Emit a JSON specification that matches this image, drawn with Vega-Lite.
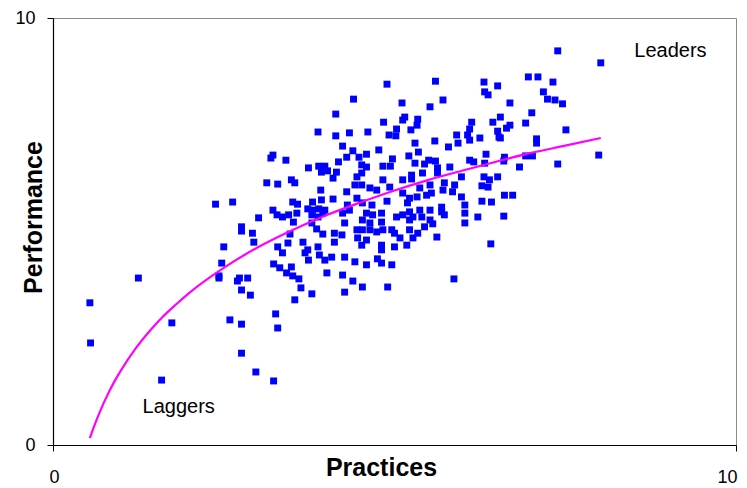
{
  "$schema": "https://vega.github.io/schema/vega-lite/v6.json",
  "width": 683,
  "height": 427,
  "autosize": {"type": "none"},
  "padding": {"left": 53, "top": 18, "right": 11, "bottom": 43},
  "background": "white",
  "config": {
    "view": {"stroke": "#8c8c8c", "strokeWidth": 1},
    "font": "Liberation Sans"
  },
  "datasets": {
    "pts": [
      {"x":0.54,"y":3.33},{"x":0.55,"y":2.39},{"x":1.25,"y":3.91},{"x":1.74,"y":2.86},{"x":1.59,"y":1.52},{"x":2.59,"y":2.93},{"x":2.76,"y":2.83},{"x":2.76,"y":2.15},{"x":2.97,"y":1.71},{"x":3.23,"y":1.50},{"x":3.26,"y":3.07},{"x":3.29,"y":2.74},
      {"x":3.88,"y":7.33},{"x":3.22,"y":6.79},{"x":3.19,"y":6.72},{"x":3.41,"y":6.67},{"x":3.74,"y":6.49},{"x":3.89,"y":6.53},{"x":3.98,"y":6.53},{"x":4.02,"y":6.42},
      {"x":3.13,"y":6.14},{"x":3.29,"y":6.11},{"x":3.49,"y":6.21},{"x":3.54,"y":6.14},{"x":2.38,"y":5.64},{"x":2.63,"y":5.69},{"x":3.22,"y":5.50},{"x":3.28,"y":5.39},{"x":3.36,"y":5.34},{"x":3.45,"y":5.39},{"x":3.57,"y":5.43},{"x":3.52,"y":5.22},{"x":3.51,"y":5.69},{"x":3.58,"y":5.64},{"x":3.01,"y":5.32},{"x":2.76,"y":5.11},{"x":2.76,"y":5.01},{"x":2.92,"y":4.96},{"x":2.94,"y":4.75},{"x":3.47,"y":4.94},{"x":2.50,"y":4.64},{"x":2.47,"y":4.26},{"x":2.43,"y":3.96},{"x":2.43,"y":3.91},{"x":3.29,"y":4.64},{"x":3.36,"y":4.50},{"x":3.44,"y":4.73},{"x":3.66,"y":4.75},{"x":3.69,"y":4.50},{"x":3.74,"y":4.33},{"x":3.23,"y":4.24},{"x":3.32,"y":4.15},{"x":3.49,"y":4.17},{"x":3.42,"y":4.03},{"x":3.51,"y":3.96},{"x":3.60,"y":3.89},{"x":2.73,"y":3.91},{"x":2.85,"y":3.91},{"x":2.70,"y":3.84},{"x":2.76,"y":3.63},{"x":2.89,"y":3.51},{"x":3.63,"y":3.68},{"x":3.79,"y":3.54},{"x":3.54,"y":3.40},{"x":3.93,"y":6.39},{"x":3.92,"y":5.97},{"x":3.80,"y":5.69},{"x":3.93,"y":5.74},{"x":3.73,"y":5.53},{"x":3.80,"y":5.50},{"x":3.89,"y":5.53},{"x":3.98,"y":5.50},{"x":3.79,"y":5.39},{"x":3.88,"y":5.34},{"x":3.95,"y":5.43},{"x":3.79,"y":5.20},{"x":3.86,"y":5.06},{"x":3.95,"y":4.94},{"x":3.88,"y":4.64},{"x":3.90,"y":4.45},{"x":3.98,"y":4.33},{"x":3.73,"y":4.57},{"x":4.01,"y":4.03},
      {"x":4.89,"y":8.45},{"x":5.60,"y":8.52},{"x":4.40,"y":8.10},{"x":5.11,"y":8.01},{"x":5.71,"y":8.08},{"x":5.52,"y":7.92},{"x":4.14,"y":7.75},{"x":4.84,"y":7.56},{"x":5.12,"y":7.61},{"x":5.15,"y":7.68},{"x":5.34,"y":7.63},{"x":5.33,"y":7.49},{"x":5.03,"y":7.40},{"x":5.24,"y":7.38},{"x":4.34,"y":7.31},{"x":4.61,"y":7.33},{"x":4.92,"y":7.26},{"x":5.02,"y":7.24},{"x":4.14,"y":7.24},{"x":4.24,"y":7.00},{"x":5.30,"y":7.07},{"x":5.59,"y":7.12},{"x":5.79,"y":6.98},{"x":5.91,"y":7.26},{"x":5.93,"y":7.07},{"x":4.39,"y":6.89},{"x":4.59,"y":6.81},{"x":4.77,"y":6.91},{"x":5.35,"y":6.86},{"x":4.48,"y":6.74},{"x":4.30,"y":6.74},{"x":5.21,"y":6.77},{"x":4.97,"y":6.70},{"x":4.18,"y":6.63},{"x":4.52,"y":6.56},{"x":4.59,"y":6.51},{"x":4.83,"y":6.53},{"x":4.94,"y":6.53},{"x":5.30,"y":6.60},{"x":5.50,"y":6.67},{"x":5.60,"y":6.65},{"x":5.44,"y":6.58},{"x":5.81,"y":6.51},{"x":5.63,"y":6.49},{"x":6.13,"y":7.56},{"x":6.10,"y":7.40},{"x":6.07,"y":7.26},{"x":6.10,"y":7.14},{"x":6.10,"y":6.67},{"x":6.16,"y":6.63},
      {"x":7.39,"y":9.23},{"x":8.02,"y":8.95},{"x":6.96,"y":8.62},{"x":7.10,"y":8.62},{"x":7.32,"y":8.50},{"x":6.31,"y":8.50},{"x":6.51,"y":8.41},{"x":6.32,"y":8.27},{"x":6.37,"y":8.20},{"x":7.18,"y":8.27},{"x":7.24,"y":8.10},{"x":7.35,"y":8.08},{"x":7.46,"y":7.99},{"x":6.69,"y":8.01},{"x":7.01,"y":7.78},{"x":6.55,"y":7.68},{"x":6.44,"y":7.56},{"x":6.92,"y":7.54},{"x":6.69,"y":7.49},{"x":6.64,"y":7.42},{"x":7.51,"y":7.38},{"x":6.51,"y":7.35},{"x":6.53,"y":7.21},{"x":6.55,"y":7.19},{"x":6.25,"y":7.19},{"x":7.08,"y":7.17},{"x":7.08,"y":7.07},{"x":6.34,"y":6.81},{"x":6.61,"y":6.74},{"x":6.92,"y":6.77},{"x":7.02,"y":6.77},{"x":7.99,"y":6.79},{"x":6.32,"y":6.60},{"x":6.60,"y":6.65},{"x":6.83,"y":6.51},{"x":7.39,"y":6.58},
      {"x":6.31,"y":6.28},{"x":6.39,"y":6.21},{"x":6.51,"y":6.28},{"x":6.28,"y":6.07},{"x":6.37,"y":6.04},{"x":6.61,"y":5.85},{"x":6.73,"y":5.85},{"x":6.28,"y":5.71},{"x":6.42,"y":5.69},{"x":6.22,"y":5.34},{"x":6.60,"y":5.36},{"x":6.41,"y":4.71},
      {"x":4.15,"y":6.39},{"x":4.45,"y":6.28},{"x":4.52,"y":6.37},{"x":4.42,"y":6.09},{"x":4.52,"y":6.09},{"x":4.64,"y":6.02},{"x":4.74,"y":5.97},{"x":4.83,"y":6.21},{"x":4.93,"y":6.04},{"x":5.12,"y":6.21},{"x":5.25,"y":6.32},{"x":5.25,"y":6.23},{"x":5.41,"y":6.37},{"x":5.37,"y":6.02},{"x":5.52,"y":6.09},{"x":5.54,"y":5.90},{"x":5.63,"y":6.37},{"x":5.73,"y":6.14},{"x":5.88,"y":6.09},{"x":5.98,"y":6.28},{"x":5.71,"y":5.97},{"x":5.85,"y":5.93},{"x":5.98,"y":5.81},{"x":4.30,"y":5.93},{"x":4.10,"y":6.25},{"x":4.10,"y":5.76},{"x":4.45,"y":5.78},{"x":4.53,"y":5.67},{"x":4.67,"y":5.62},{"x":4.89,"y":5.71},{"x":5.12,"y":5.90},{"x":5.22,"y":5.78},{"x":5.33,"y":5.81},{"x":5.19,"y":5.67},{"x":5.47,"y":5.85},{"x":4.31,"y":5.62},{"x":4.34,"y":5.50},{"x":4.24,"y":5.43},{"x":4.27,"y":5.20},{"x":4.59,"y":5.43},{"x":4.68,"y":5.39},{"x":4.81,"y":5.43},{"x":4.53,"y":5.27},{"x":4.64,"y":5.20},{"x":4.81,"y":5.22},{"x":5.03,"y":5.34},{"x":5.12,"y":5.39},{"x":5.22,"y":5.46},{"x":5.27,"y":5.34},{"x":5.37,"y":5.50},{"x":5.52,"y":5.50},{"x":5.40,"y":5.34},{"x":5.52,"y":5.27},{"x":5.56,"y":5.18},{"x":5.69,"y":5.57},{"x":5.73,"y":5.39},{"x":5.69,"y":5.46},{"x":6.03,"y":5.62},{"x":6.03,"y":5.43},{"x":6.03,"y":5.20},{"x":5.22,"y":5.27},{"x":4.45,"y":5.04},{"x":4.53,"y":5.04},{"x":4.64,"y":5.04},{"x":4.74,"y":4.99},{"x":4.83,"y":5.04},{"x":4.96,"y":5.04},{"x":5.00,"y":4.96},{"x":4.46,"y":4.85},{"x":4.59,"y":4.80},{"x":4.52,"y":4.68},{"x":5.22,"y":5.04},{"x":5.34,"y":4.96},{"x":5.44,"y":5.11},{"x":5.08,"y":4.85},{"x":5.18,"y":4.68},{"x":5.27,"y":4.85},{"x":4.81,"y":4.68},{"x":4.81,"y":4.57},{"x":5.00,"y":4.64},{"x":5.62,"y":4.87},{"x":4.12,"y":4.96},{"x":4.23,"y":4.92},{"x":4.12,"y":4.75},{"x":4.08,"y":4.40},{"x":4.27,"y":4.40},{"x":4.42,"y":4.29},{"x":4.59,"y":4.22},{"x":4.75,"y":4.36},{"x":4.81,"y":4.26},{"x":4.96,"y":4.22},{"x":4.24,"y":3.98},{"x":4.39,"y":3.84},{"x":4.53,"y":3.70},{"x":4.90,"y":3.70},{"x":4.27,"y":3.58},{"x":5.87,"y":3.89}
    ],
    "curve": [
      {"x":0.54,"y":0.16},{"x":0.6,"y":0.43},{"x":0.7,"y":0.83},{"x":0.8,"y":1.18},{"x":0.9,"y":1.49},{"x":1.0,"y":1.76},{"x":1.2,"y":2.24},{"x":1.4,"y":2.64},{"x":1.6,"y":2.99},{"x":1.8,"y":3.29},{"x":2.0,"y":3.57},{"x":2.5,"y":4.15},{"x":3.0,"y":4.63},{"x":3.5,"y":5.03},{"x":4.0,"y":5.38},{"x":4.5,"y":5.68},{"x":5.0,"y":5.96},{"x":5.5,"y":6.21},{"x":6.0,"y":6.43},{"x":6.5,"y":6.64},{"x":7.0,"y":6.84},{"x":7.5,"y":7.01},{"x":8.02,"y":7.19}
    ],
    "labels": [
      {"x":9.04,"y":9.23,"label":"Leaders"},
      {"x":1.84,"y":0.89,"label":"Laggers"}
    ]
  },
  "layer": [
    {
      "data": {"name": "pts"},
      "mark": {"type": "point", "shape": "square", "filled": true, "size": 48, "color": "#0000ff", "opacity": 1},
      "encoding": {
        "x": {
          "field": "x", "type": "quantitative",
          "scale": {"domain": [0, 10], "nice": false, "zero": true},
          "axis": {
            "title": "Practices", "values": [0, 10], "format": "d", "grid": false,
            "domainColor": "#000000", "domainWidth": 1.2, "tickColor": "#000000", "tickSize": 6,
            "labelFontSize": 18, "labelColor": "#000000", "labelPadding": 17, "labelFont": "Liberation Sans",
            "labelFlush": false, "labelOverlap": false,
            "labelOffset": {"condition": {"test": "datum.value == 10", "value": -9}, "value": 1},
            "titleFontSize": 25, "titleFontWeight": "bold", "titleFont": "Liberation Sans", "titleColor": "#000000",
            "titleX": 328, "titleY": 22, "titleBaseline": "middle", "titleAlign": "center"
          }
        },
        "y": {
          "field": "y", "type": "quantitative",
          "scale": {"domain": [0, 10], "nice": false, "zero": true},
          "axis": {
            "title": "Performance", "values": [0, 10], "format": "d", "grid": false,
            "domainColor": "#000000", "domainWidth": 1.2, "tickColor": "#000000", "tickSize": 6,
            "labelFontSize": 18, "labelColor": "#000000", "labelPadding": 12, "labelFont": "Liberation Sans",
            "labelFlush": false, "labelOverlap": false,
            "titleFontSize": 25, "titleFontWeight": "bold", "titleFont": "Liberation Sans", "titleColor": "#000000",
            "titleX": -20, "titleY": 199, "titleBaseline": "middle", "titleAlign": "center", "titleAngle": -90
          }
        }
      }
    },
    {
      "data": {"name": "curve"},
      "mark": {"type": "line", "color": "#ff00ff", "strokeWidth": 2.2, "interpolate": "monotone"},
      "encoding": {
        "x": {"field": "x", "type": "quantitative"},
        "y": {"field": "y", "type": "quantitative"}
      }
    },
    {
      "data": {"name": "labels"},
      "mark": {"type": "text", "fontSize": 20, "font": "Liberation Sans", "color": "#000000", "align": "center", "baseline": "middle"},
      "encoding": {
        "x": {"field": "x", "type": "quantitative"},
        "y": {"field": "y", "type": "quantitative"},
        "text": {"field": "label"}
      }
    }
  ]
}
